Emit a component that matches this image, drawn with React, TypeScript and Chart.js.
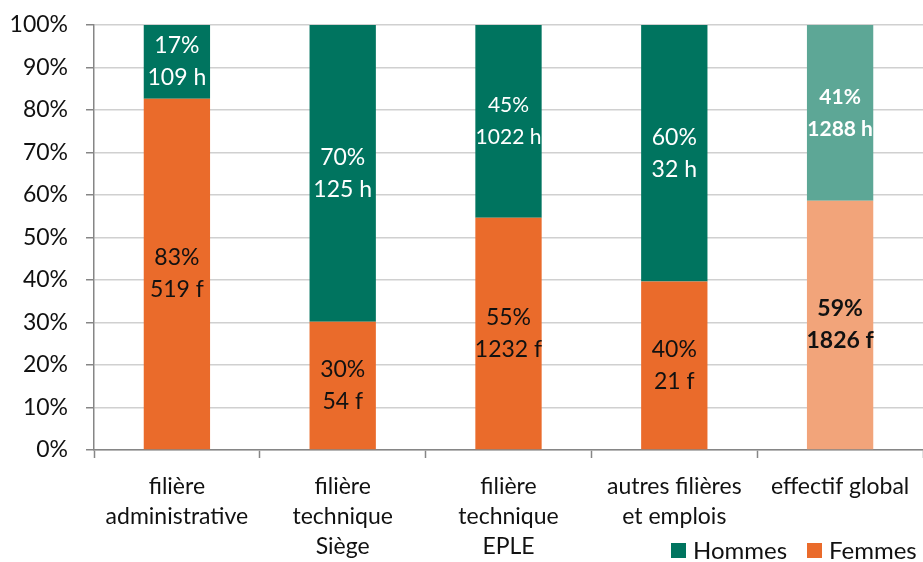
import React, { useEffect, useRef } from "react";
import { Chart, registerables } from "chart.js";

Chart.register(...registerables);

const categories: string[][] = [
  ["filière", "administrative"],
  ["filière", "technique", "Siège"],
  ["filière", "technique", "EPLE"],
  ["autres filières", "et emplois"],
  ["effectif global"],
];
const femmesCount = [519, 54, 1232, 21, 1826];
const hommesCount = [109, 125, 1022, 32, 1288];
const femmesPct = ["83%", "30%", "55%", "40%", "59%"];
const hommesPct = ["17%", "70%", "45%", "60%", "41%"];
const yTicks = [0, 10, 20, 30, 40, 50, 60, 70, 80, 90, 100];

const FONT = "Lato, 'Open Sans', sans-serif";
const FS = 23;
const GREEN = "#00745F";
const ORANGE = "#EA6B2B";
const GREEN_LIGHT = "#5DA796";
const ORANGE_LIGHT = "#F2A47A";

const totals = femmesCount.map((f, i) => f + hommesCount[i]);
const femmesShare = femmesCount.map((f, i) => (f / totals[i]) * 100);
const hommesShare = hommesCount.map((h, i) => (h / totals[i]) * 100);

const labelPlugin = {
  id: "segLabels",
  afterDatasetsDraw(chart: any) {
    const ctx = chart.ctx;
    ctx.save();
    ctx.textAlign = "center";
    ctx.textBaseline = "middle";
    chart.data.datasets.forEach((ds: any, di: number) => {
      const meta = chart.getDatasetMeta(di);
      meta.data.forEach((el: any, i: number) => {
        const isH = di === 1;
        const pct = isH ? hommesPct[i] : femmesPct[i];
        const cnt = isH ? `${hommesCount[i]} h` : `${femmesCount[i]} f`;
        const bold = i === 4;
        const size = isH && (i === 2 || i === 4) ? 21 : FS;
        ctx.font = `${bold ? "bold " : ""}${size}px ${FONT}`;
        ctx.fillStyle = isH ? "#ffffff" : "#111111";
        const cy = (el.y + el.base) / 2;
        ctx.fillText(pct, el.x, cy - 16);
        ctx.fillText(cnt, el.x, cy + 16);
      });
    });
    ctx.restore();
  },
};

const legendPlugin = {
  id: "customLegend",
  afterDraw(chart: any) {
    const ctx = chart.ctx;
    ctx.save();
    ctx.font = `24px ${FONT}`;
    ctx.textBaseline = "middle";
    ctx.textAlign = "left";
    const y = 551;
    const items = [
      { t: "Hommes", c: GREEN, x: 671 },
      { t: "Femmes", c: ORANGE, x: 807 },
    ];
    items.forEach((it) => {
      ctx.fillStyle = it.c;
      ctx.fillRect(it.x, y - 8, 15, 15);
      ctx.fillStyle = "#111111";
      ctx.fillText(it.t, it.x + 22, y);
    });
    ctx.restore();
  },
};

export default function App() {
  const ref = useRef<HTMLCanvasElement>(null);
  useEffect(() => {
    document.body.style.margin = "0";
    const chart = new Chart(ref.current!, {
      type: "bar",
      data: {
        labels: categories,
        datasets: [
          {
            label: "Femmes",
            data: femmesShare,
            backgroundColor: femmesShare.map((_, i) => (i === 4 ? ORANGE_LIGHT : ORANGE)),
            barPercentage: 0.8,
            categoryPercentage: 0.5,
          },
          {
            label: "Hommes",
            data: hommesShare,
            backgroundColor: hommesShare.map((_, i) => (i === 4 ? GREEN_LIGHT : GREEN)),
            barPercentage: 0.8,
            categoryPercentage: 0.5,
          },
        ],
      },
      options: {
        responsive: false,
        animation: false,
        layout: { padding: { top: 25, right: 0, left: 0, bottom: 0 } },
        plugins: { legend: { display: false }, tooltip: { enabled: false } },
        scales: {
          x: {
            stacked: true,
            offset: true,
            grid: {
              offset: true,
              drawOnChartArea: false,
              tickLength: 8,
              tickColor: "#868686",
              tickWidth: 1.5,
            },
            border: { color: "#868686", width: 1.5 },
            ticks: {
              color: "#111111",
              font: { family: FONT, size: FS, lineHeight: 30 / FS },
              padding: 14,
              maxRotation: 0,
              autoSkip: false,
            },
            afterFit: (s: any) => {
              s.height = 112;
              s.paddingLeft = 0;
              s.paddingRight = 0;
            },
          },
          y: {
            stacked: true,
            min: 0,
            max: 100,
            afterBuildTicks: (s: any) => {
              s.ticks = yTicks.map((v) => ({ value: v }));
            },
            grid: {
              color: "#D0D0D0",
              lineWidth: 1.5,
              borderDash: [6, 4],
              tickLength: 8,
              tickColor: "#868686",
              tickBorderDash: [],
              tickWidth: 1.5,
            },
            border: { color: "#868686", width: 1.5 },
            ticks: {
              color: "#111111",
              font: { family: FONT, size: FS },
              padding: 18,
              callback: (v: any) => `${v}%`,
            },
            afterFit: (s: any) => {
              s.width = 94;
              s.paddingTop = 0;
              s.paddingBottom = 0;
            },
          },
        },
      },
      plugins: [labelPlugin, legendPlugin],
    });
    return () => chart.destroy();
  }, []);
  return (
    <div style={{ width: 923, height: 562 }}>
      <canvas ref={ref} width={923} height={562} />
    </div>
  );
}
